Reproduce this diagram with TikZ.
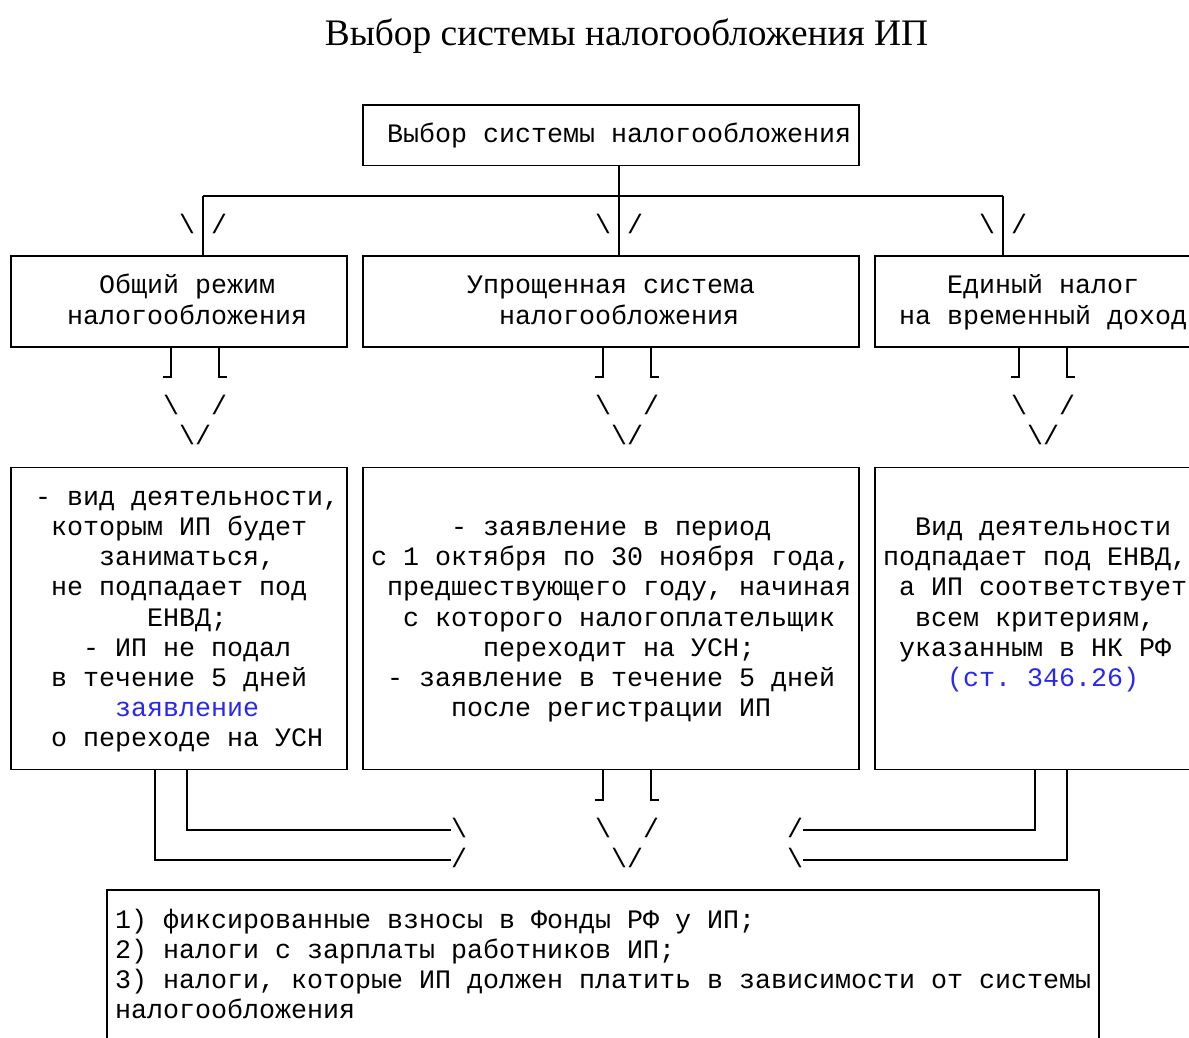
\documentclass[tikz,border=0pt]{standalone}
\usepackage{fontspec}
\setmainfont{Liberation Serif}
\newfontfamily\monofont{Liberation Mono}
\definecolor{linkblue}{RGB}{40,40,240}
\tikzset{
  box/.style={draw, line width=1.8pt, inner sep=0pt, outer sep=0pt, rectangle},
  conn/.style={line width=1.8pt},
  txt/.style={anchor=base west, inner sep=0pt, outer sep=0pt,
    font=\monofont\frenchspacing\fontsize{26.67}{30}\selectfont},
  link/.style={txt, text=linkblue},
}
% cell c -> left edge 3+16c ; row k -> baseline 112.7+30.2k
\newcommand{\gridtext}[5][txt]{\node[#1] (#2) at ({3+16*(#3)},{112.7+30.2*(#4)}) {#5};}
\begin{document}
\begin{tikzpicture}[x=1pt,y=-1pt]
\clip (0,0) rectangle (1189,1037);
\useasboundingbox (0,0) rectangle (1189,1037);

% title
\node[anchor=base, inner sep=0pt, font=\fontsize{37.4}{40}\selectfont] (title) at (626.5,45.5) {Выбор системы налогообложения ИП};

% boxes
\node[box, minimum width=496pt, minimum height=60.4pt] (top) at (611,135.2) {};
\node[box, minimum width=336pt, minimum height=90.6pt] (gen) at (179,301.3) {};
\node[box, minimum width=496pt, minimum height=90.6pt] (usn) at (611,301.3) {};
\node[box, minimum width=320pt, minimum height=90.6pt] (envd) at (1035,301.3) {};
\node[box, minimum width=336pt, minimum height=302pt] (genC) at (179,618.4) {};
\node[box, minimum width=496pt, minimum height=302pt] (usnC) at (611,618.4) {};
\node[box, minimum width=320pt, minimum height=302pt] (envdC) at (1035,618.4) {};
\node[box, minimum width=992pt, minimum height=151pt] (bot) at (603,965.7) {};

% texts in boxes
\gridtext{t1}{24}{1}{Выбор системы налогообложения}
\gridtext{g1}{6}{6}{Общий режим}
\gridtext{g2}{4}{7}{налогообложения}
\gridtext{u1}{29}{6}{Упрощенная система}
\gridtext{u2}{31}{7}{налогообложения}
\gridtext{e1}{59}{6}{Единый налог}
\gridtext{e2}{56}{7}{на временный доход}

\gridtext{gc1}{2}{13}{- вид деятельности,}
\gridtext{gc2}{3}{14}{которым ИП будет}
\gridtext{gc3}{6}{15}{заниматься,}
\gridtext{gc4}{3}{16}{не подпадает под}
\gridtext{gc5}{9}{17}{ЕНВД;}
\gridtext{gc6}{5}{18}{- ИП не подал}
\gridtext{gc7}{3}{19}{в течение 5 дней}
\gridtext[link]{gc8}{7}{20}{заявление}
\gridtext{gc9}{3}{21}{о переходе на УСН}

\gridtext{uc1}{28}{14}{- заявление в период}
\gridtext{uc2}{23}{15}{с 1 октября по 30 ноября года,}
\gridtext{uc3}{24}{16}{предшествующего году, начиная}
\gridtext{uc4}{25}{17}{с которого налогоплательщик}
\gridtext{uc5}{30}{18}{переходит на УСН;}
\gridtext{uc6}{24}{19}{- заявление в течение 5 дней}
\gridtext{uc7}{28}{20}{после регистрации ИП}

\gridtext{ec1}{57}{14}{Вид деятельности}
\gridtext{ec2}{55}{15}{подпадает под ЕНВД,}
\gridtext{ec3}{56}{16}{а ИП соответствует}
\gridtext{ec4}{57}{17}{всем критериям,}
\gridtext{ec5}{56}{18}{указанным в НК РФ}
\gridtext[link]{ec6}{59}{19}{(ст. 346.26)}

\gridtext{b1}{7}{27}{1) фиксированные взносы в Фонды РФ у ИП;}
\gridtext{b2}{7}{28}{2) налоги с зарплаты работников ИП;}
\gridtext{b3}{7}{29}{3) налоги, которые ИП должен платить в зависимости от системы}
\gridtext{b4}{7}{30}{налогообложения}

% --- bus from top box
\coordinate (j0) at (619,195.6);
\coordinate (bL) at (203,195.6);
\coordinate (bR) at (1003,195.6);
\draw[conn] (top.south -| j0) -- (j0 |- usn.north);
\draw[conn] (bL) -- (bR);
\draw[conn] (bL) -- (bL |- gen.north);
\draw[conn] (bR) -- (bR |- envd.north);
\gridtext{a1l}{11}{4}{\textbackslash}
\gridtext{a1r}{13}{4}{/}
\gridtext{a2l}{37}{4}{\textbackslash}
\gridtext{a2r}{39}{4}{/}
\gridtext{a3l}{61}{4}{\textbackslash}
\gridtext{a3r}{63}{4}{/}

% --- double arrows from middle row boxes
\coordinate (gL) at (171,376.8);
\coordinate (gR) at (219,376.8);
\coordinate (uL) at (603,376.8);
\coordinate (uR) at (651,376.8);
\coordinate (eL) at (1019,376.8);
\coordinate (eR) at (1067,376.8);
\draw[conn] (gen.south -| gL) -- (gL) -- ++(-8,0);
\draw[conn] (gen.south -| gR) -- (gR) -- ++(8,0);
\draw[conn] (usn.south -| uL) -- (uL) -- ++(-8,0);
\draw[conn] (usn.south -| uR) -- (uR) -- ++(8,0);
\draw[conn] (envd.south -| eL) -- (eL) -- ++(-8,0);
\draw[conn] (envd.south -| eR) -- (eR) -- ++(8,0);
\gridtext{d1a}{10}{10}{\textbackslash}
\gridtext{d1b}{13}{10}{/}
\gridtext{d1c}{11}{11}{\textbackslash}
\gridtext{d1d}{12}{11}{/}
\gridtext{d2a}{37}{10}{\textbackslash}
\gridtext{d2b}{40}{10}{/}
\gridtext{d2c}{38}{11}{\textbackslash}
\gridtext{d2d}{39}{11}{/}
\gridtext{d3a}{63}{10}{\textbackslash}
\gridtext{d3b}{66}{10}{/}
\gridtext{d3c}{64}{11}{\textbackslash}
\gridtext{d3d}{65}{11}{/}

% --- connectors to the bottom box
\coordinate (mL) at (603,799.6);
\coordinate (mR) at (651,799.6);
\draw[conn] (usnC.south -| mL) -- (mL) -- ++(-8,0);
\draw[conn] (usnC.south -| mR) -- (mR) -- ++(8,0);
\gridtext{m1}{37}{24}{\textbackslash}
\gridtext{m2}{40}{24}{/}
\gridtext{m3}{38}{25}{\textbackslash}
\gridtext{m4}{39}{25}{/}

\coordinate (li) at (187,829.8);
\coordinate (lo) at (155,860.0);
\coordinate (lie) at (451,829.8);
\coordinate (loe) at (451,860.0);
\draw[conn] (genC.south -| li) -- (li) -- (lie);
\draw[conn] (genC.south -| lo) -- (lo) -- (loe);
\gridtext{l1}{28}{24}{\textbackslash}
\gridtext{l2}{28}{25}{/}

\coordinate (ri) at (1035,829.8);
\coordinate (ro) at (1067,860.0);
\coordinate (rie) at (803,829.8);
\coordinate (roe) at (803,860.0);
\draw[conn] (envdC.south -| ri) -- (ri) -- (rie);
\draw[conn] (envdC.south -| ro) -- (ro) -- (roe);
\gridtext{r1}{49}{24}{/}
\gridtext{r2}{49}{25}{\textbackslash}
\end{tikzpicture}
\end{document}
